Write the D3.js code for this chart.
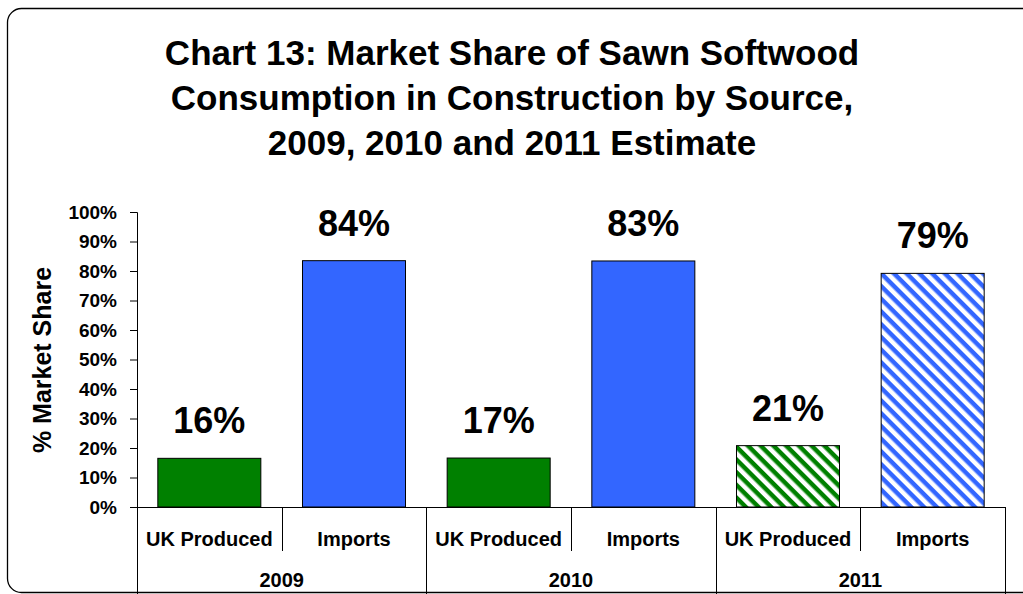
<!DOCTYPE html>
<html><head><meta charset="utf-8">
<script src="https://cdn.jsdelivr.net/npm/d3@7"></script>
<style>
html,body{margin:0;padding:0;background:#fff;}
svg{display:block;font-family:"Liberation Sans",Arial,sans-serif;font-weight:bold;}
</style></head>
<body><svg id="chart" width="1023" height="594"></svg>
<script>
const titleLines = ["Chart 13: Market Share of Sawn Softwood","Consumption in Construction by Source,","2009, 2010 and 2011 Estimate"];
const years = ["2009","2010","2011"];
const sources = ["UK Produced","Imports"];
const ukValues = [0.165, 0.166, 0.208];
const importValues = [0.835, 0.834, 0.792];
const ukLabels = ["16%","17%","21%"];
const importLabels = ["84%","83%","79%"];
const estimate = [false,false,true];
const yTicks = [0,0.1,0.2,0.3,0.4,0.5,0.6,0.7,0.8,0.9,1.0];
const yTitle = "% Market Share";
const colors = {"UK Produced":"#008000","Imports":"#3366FF"};

(function(){
const rows = [];
years.forEach((yr,i)=>{
  rows.push({year:yr, source:sources[0], value:ukValues[i], label:ukLabels[i], est:estimate[i], key:yr+"|"+sources[0]});
  rows.push({year:yr, source:sources[1], value:importValues[i], label:importLabels[i], est:estimate[i], key:yr+"|"+sources[1]});
});

const svg = d3.select("#chart");
const W=1023,H=594;
const pl=137,pr=1005,pt=212,pb=507;

const defs = svg.append("defs");
Object.entries(colors).forEach(([k,c],i)=>{
  const p = defs.append("pattern").attr("id","hatch"+i).attr("patternUnits","userSpaceOnUse")
    .attr("width",9).attr("height",9).attr("patternTransform","rotate(45)");
  p.append("rect").attr("width",9).attr("height",9).attr("fill","#fff");
  p.append("rect").attr("width",9).attr("height",4.5).attr("fill",c);
});

svg.append("rect").attr("x",7.5).attr("y",8.5).attr("width",1040).attr("height",584)
  .attr("rx",14).attr("fill","#fff").attr("stroke","#000").attr("stroke-width",1.3);

svg.append("g").selectAll("text").data(titleLines).join("text")
  .attr("x",512).attr("y",(d,i)=>65+i*45).attr("text-anchor","middle")
  .attr("font-size",35).attr("fill","#000").text(d=>d);

const x = d3.scaleBand().domain(rows.map(d=>d.key)).range([pl,pr]).paddingInner(0.288).paddingOuter(0.144);
const y = d3.scaleLinear().domain([0,1]).range([pb,pt]);

const ya = svg.append("g").attr("transform",`translate(${pl},0)`)
  .call(d3.axisLeft(y).tickValues(yTicks).tickFormat(d3.format(".0%")).tickSize(7).tickPadding(13));
ya.select(".domain").attr("stroke","#000");
ya.selectAll(".tick line").attr("stroke","#000");
ya.selectAll("text").attr("font-size",19).attr("font-family","Liberation Sans, Arial, sans-serif").attr("font-weight","bold").attr("fill","#000");

svg.append("text").attr("transform",`translate(51,360) rotate(-90)`).attr("text-anchor","middle")
  .attr("font-size",25).attr("fill","#000").text(yTitle);

const srcIdx = s=>sources.indexOf(s);
svg.append("g").selectAll("rect").data(rows).join("rect")
  .attr("x",d=>x(d.key)).attr("width",x.bandwidth())
  .attr("y",d=>y(d.value)).attr("height",d=>y(0)-y(d.value))
  .attr("fill",d=>d.est?`url(#hatch${srcIdx(d.source)})`:colors[d.source])
  .attr("stroke","#000").attr("stroke-width",1);

svg.append("g").selectAll("text").data(rows).join("text")
  .attr("x",d=>x(d.key)+x.bandwidth()/2).attr("y",d=>y(d.value)-25)
  .attr("text-anchor","middle").attr("font-size",36).attr("fill","#000").text(d=>d.label);

const step = x.step();
svg.append("line").attr("x1",pl-7).attr("x2",pr).attr("y1",pb+0.5).attr("y2",pb+0.5).attr("stroke","#000");
const bounds = d3.range(rows.length+1).map(i=>pl+i*step);
svg.append("g").selectAll("line").data(bounds).join("line")
  .attr("x1",d=>Math.round(d)+0.5).attr("x2",d=>Math.round(d)+0.5)
  .attr("y1",pb).attr("y2",(d,i)=> i%2===0 ? H : pb+44)
  .attr("stroke","#000");
svg.append("g").selectAll("text").data(rows).join("text")
  .attr("x",d=>x(d.key)+x.bandwidth()/2).attr("y",546).attr("text-anchor","middle")
  .attr("font-size",20).attr("fill","#000").text(d=>d.source);
svg.append("g").selectAll("text").data(years).join("text")
  .attr("x",(d,i)=>pl+step*(2*i+1)).attr("y",587).attr("text-anchor","middle")
  .attr("font-size",20).attr("fill","#000").text(d=>d);
})();
</script></body></html>
